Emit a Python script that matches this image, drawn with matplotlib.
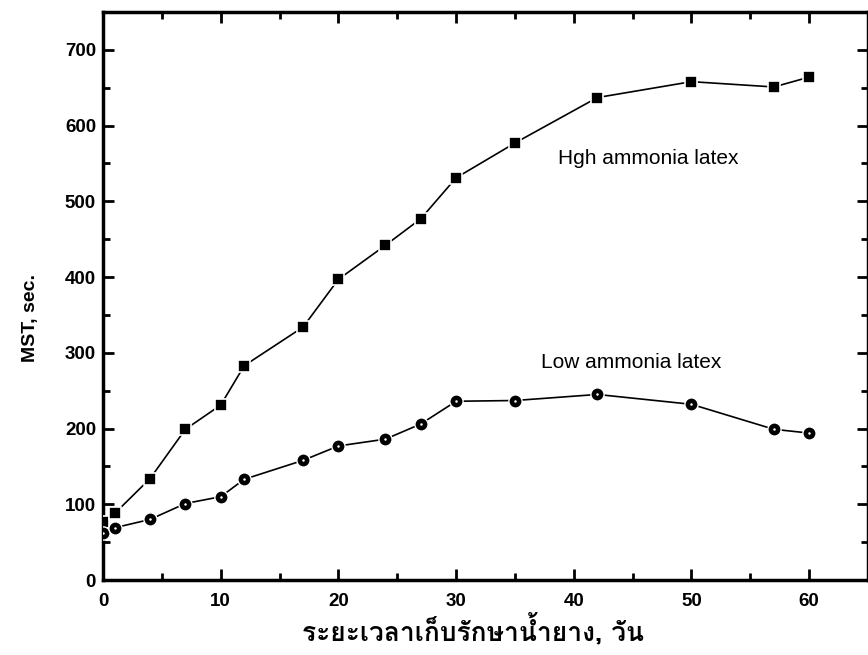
import matplotlib
matplotlib.use("Agg")
import matplotlib.pyplot as plt
from matplotlib import font_manager
from matplotlib.ft2font import FT2Font

# storage time (days) and mechanical stability time (s)
days = [0, 1, 4, 7, 10, 12, 17, 20, 24, 27, 30, 35, 42, 50, 57, 60]
high_nh3 = [76, 88, 134, 199, 231, 283, 334, 397, 442, 477, 531, 577, 637, 658, 651, 664]
low_nh3 = [62, 69, 80, 101, 110, 133, 158, 177, 186, 206, 236, 237, 245, 232, 199, 194]

xticks = [0, 10, 20, 30, 40, 50, 60]
yticks = [0, 100, 200, 300, 400, 500, 600, 700]


def thai_family():
    # look for any installed font that carries Thai glyphs
    names = []
    for f in font_manager.fontManager.ttflist:
        try:
            cmap = FT2Font(f.fname).get_charmap()
        except Exception:
            continue
        if 0x0E23 in cmap and f.name not in names:
            names.append(f.name)
    return names + ["DejaVu Sans"]


plt.rcParams["font.family"] = ["Liberation Sans", "DejaVu Sans"]

fig = plt.figure(figsize=(8.68, 6.55), dpi=100)
ax = fig.add_axes([0.1187, 0.1145, 0.8813, 0.8672])

ax.plot(days, high_nh3, color="black", lw=1.2, marker="s", ms=8.5,
        mfc="black", mec="white", mew=1.2, zorder=3)
ax.plot(days, low_nh3, color="black", lw=1.2, marker="o", ms=9.5,
        mfc="black", mec="white", mew=1.0, zorder=3)
# small light dot in the middle of each circle
ax.plot(days, low_nh3, ls="none", marker="o", ms=0.8, mfc="white", mec="white", zorder=4)

ax.text(46.3, 556, "Hgh ammonia latex", fontsize=15, ha="center", va="center")
ax.text(44.9, 287, "Low ammonia latex", fontsize=15, ha="center", va="center")

ax.set_xlim(0, 65)
ax.set_ylim(0, 750)
ax.set_xticks(xticks)
ax.set_yticks(yticks)
ax.set_xticks(range(5, 65, 10), minor=True)
ax.set_yticks(range(50, 750, 100), minor=True)

for lbl in ax.get_xticklabels() + ax.get_yticklabels():
    lbl.set_fontweight("bold")
    lbl.set_fontsize(13.5)

ax.tick_params(which="both", direction="in", top=True, right=True, width=2)
ax.tick_params(which="major", length=8)
ax.tick_params(which="minor", length=5)
ax.tick_params(axis="x", pad=9)
ax.tick_params(axis="y", pad=5)
for s in ax.spines.values():
    s.set_linewidth(2.5)

fig.text(30 / 868, 1 - 318 / 655, "MST, sec.", fontsize=14, fontweight="bold",
         rotation=90, ha="center", va="center")
fig.text(473 / 868, 1 - 630 / 655, "ระยะเวลาเก็บรักษาน้ำยาง, วัน", fontsize=19,
         fontweight="bold", family=thai_family(), ha="center", va="center")

fig.savefig("out.png", dpi=100)
